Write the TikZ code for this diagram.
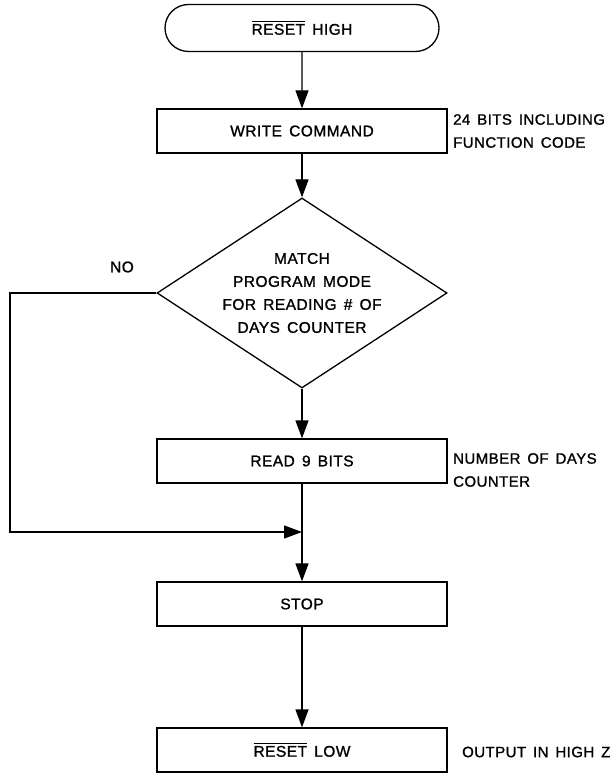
\documentclass[tikz,border=0pt]{standalone}
\usepackage{fontspec}
\setmainfont{Liberation Sans}[LetterSpace=3,WordSpace=1.5,FakeBold=1.2]
\usetikzlibrary{arrows.meta,shapes.geometric,shapes.misc}
\newcommand{\ovbar}[1]{\setbox0\hbox{#1}\rlap{\raisebox{12.5pt}{\rule{\wd0}{1.1pt}}}\box0\relax}
\tikzset{
  every node/.style={font=\fontsize{15.5}{23}\selectfont},
  proc/.style={draw,line width=1.3pt,minimum width=290pt,minimum height=44pt,inner sep=0pt},
  term/.style={draw,line width=1.3pt,rounded rectangle,minimum width=274pt,minimum height=47pt,inner sep=0pt},
  dec/.style={draw,line width=1.3pt,diamond,aspect=1.53,minimum width=290pt,minimum height=190pt,inner sep=0pt,align=center},
  note/.style={anchor=west,align=left,inner sep=0pt},
  flow/.style={line width=1.3pt,-{Triangle[length=18pt,width=13pt]}}
}
\begin{document}
\begin{tikzpicture}[x=1pt,y=-1pt]
\useasboundingbox (0,0) rectangle (615,775);
\node[term] (start) at (302,28) {\ovbar{RESET} HIGH};
\node[proc] (write) at (302,131) {WRITE COMMAND};
\node[dec] (match) at (302,293) {MATCH\\PROGRAM MODE\\FOR READING \# OF\\DAYS COUNTER};
\node[proc] (read) at (302,461) {READ 9 BITS};
\node[proc] (stop) at (302,604) {STOP};
\node[proc] (rlow) at (302,750) {\ovbar{RESET} LOW};
\node[note,font=\fontsize{15}{23}\selectfont] (n1) at (453,131) {24 BITS INCLUDING\\FUNCTION CODE};
\node[note,font=\fontsize{15}{23}\selectfont] (n2) at (453,470) {NUMBER OF DAYS\\COUNTER};
\node[note,font=\fontsize{15}{23}\selectfont] (n3) at (462,752) {OUTPUT IN HIGH Z};
\node (no) at (122,267) {NO};
\coordinate (left) at (10,293);
\coordinate (j) at (302,532);
\draw[flow] (start) -- (write);
\draw[flow] (write) -- (match);
\draw[flow] (match) -- (read);
\draw[flow] (read) -- (stop);
\draw[flow] (match.west) -- (left) |- (j);
\draw[flow] (stop) -- (rlow);
\end{tikzpicture}
\end{document}
